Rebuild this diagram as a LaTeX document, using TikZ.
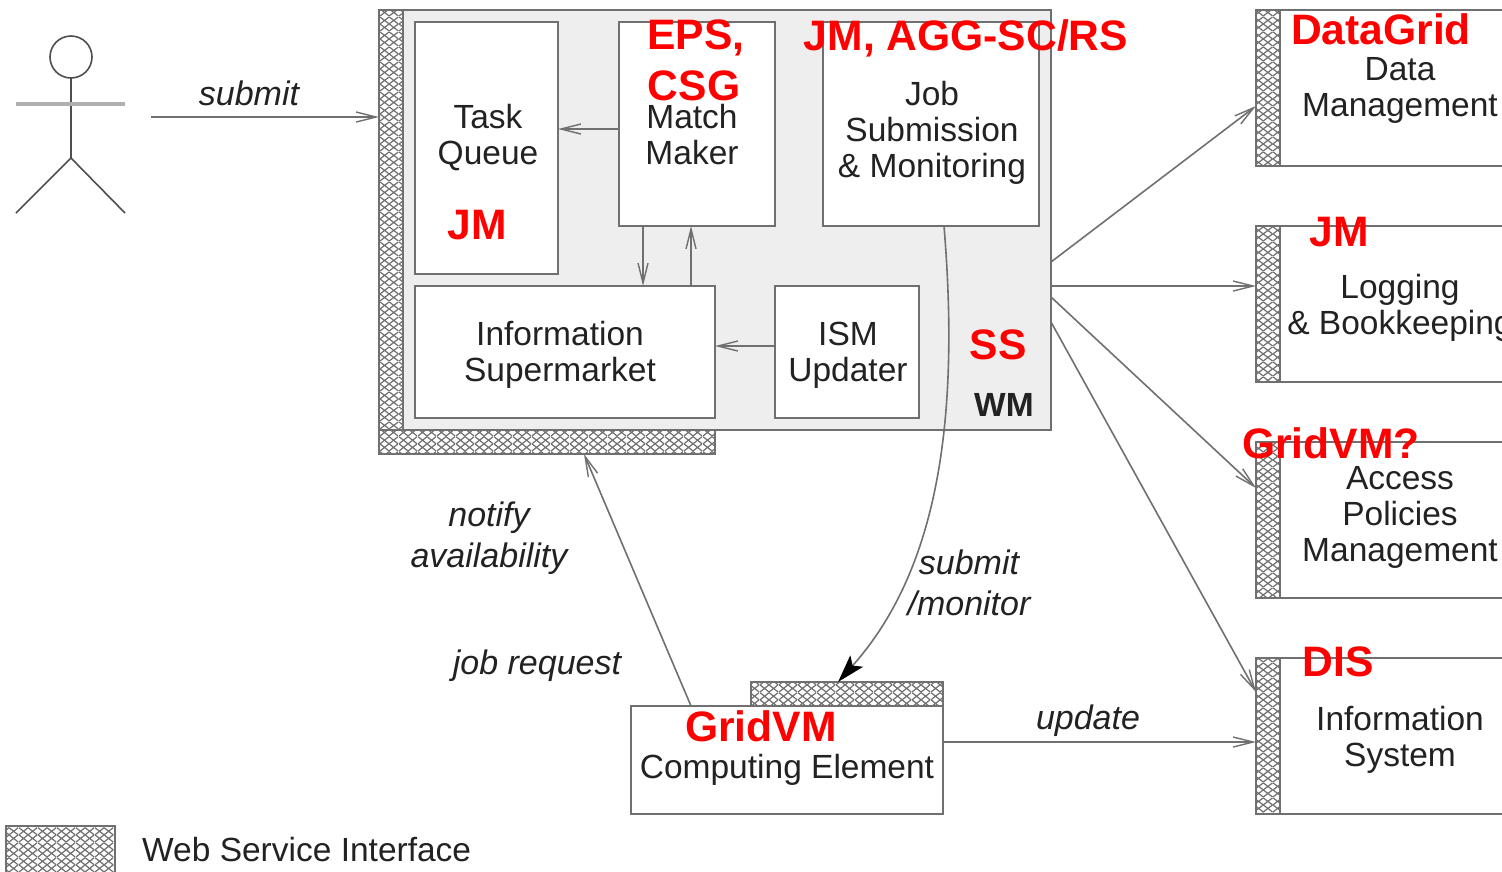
\documentclass[tikz,border=0pt]{standalone}
\usepackage{fontspec}
\setmainfont{Liberation Sans}
\usetikzlibrary{arrows.meta,patterns}
\pgfdeclarepatternformonly{wsface}{\pgfqpoint{0pt}{0pt}}{\pgfqpoint{19pt}{15pt}}{\pgfqpoint{19pt}{15pt}}{
  \pgfsetlinewidth{1.25pt}
  \pgfpathmoveto{\pgfqpoint{0pt}{0pt}}\pgfpathlineto{\pgfqpoint{19pt}{15pt}}
  \pgfpathmoveto{\pgfqpoint{0pt}{15pt}}\pgfpathlineto{\pgfqpoint{19pt}{0pt}}
  \pgfpathmoveto{\pgfqpoint{0pt}{7.5pt}}\pgfpathlineto{\pgfqpoint{9.5pt}{15pt}}
  \pgfpathmoveto{\pgfqpoint{9.5pt}{0pt}}\pgfpathlineto{\pgfqpoint{19pt}{7.5pt}}
  \pgfpathmoveto{\pgfqpoint{0pt}{7.5pt}}\pgfpathlineto{\pgfqpoint{9.5pt}{0pt}}
  \pgfpathmoveto{\pgfqpoint{9.5pt}{15pt}}\pgfpathlineto{\pgfqpoint{19pt}{7.5pt}}
  \pgfusepath{stroke}}
\definecolor{lin}{HTML}{707070}
\definecolor{txt}{HTML}{222222}
\definecolor{panel}{HTML}{EEEEEE}
\tikzset{
  panelbox/.style={draw=lin,line width=1.6pt,fill=panel,inner sep=0pt,outer sep=0pt,anchor=north west},
  wbox/.style={draw=lin,line width=1.6pt,fill=white,inner sep=0pt,outer sep=0pt,anchor=north west},
  ws/.style={draw=lin,line width=1.6pt,fill=white,postaction={pattern=wsface,pattern color=lin},inner sep=0pt,outer sep=0pt,anchor=north west},
  lab/.style={text=txt,font=\fontsize{33.5}{36}\selectfont,align=center,inner sep=0pt},
  ilab/.style={lab,font=\fontsize{34}{40.5}\selectfont\itshape},
  red/.style={text=red,font=\fontsize{42.6}{50}\selectfont\bfseries,inner sep=0pt},
  arr/.style={draw=lin,line width=1.6pt,-{Straight Barb[length=20pt,width=10pt,line width=1.4pt]}},
  arrf/.style={draw=lin,line width=1.6pt,-{Stealth[length=28pt,width=17pt,inset=6pt,black]}},
  actor/.style={draw=lin!70!black,line width=1.6pt,outer sep=0pt}
}
\begin{document}
\begin{tikzpicture}[x=1pt,y=-1pt]
\useasboundingbox (0,0) rectangle (1502,871);
\fill[white] (0,0) rectangle (1502,871);
\clip (0,0) rectangle (1502,871);
% WM panel
\node[panelbox,minimum width=648pt,minimum height=420pt] (wm) at (403,10) {};
\node[ws,minimum width=24pt,minimum height=444pt] (wmws) at (379,10) {};
\node[ws,minimum width=336pt,minimum height=24pt] (wmwsb) at (379,430) {};
\node[wbox,minimum width=143pt,minimum height=252pt] (tq) at (415,22) {};
\node[wbox,minimum width=156pt,minimum height=204pt] (mm) at (619,22) {};
\node[wbox,minimum width=216pt,minimum height=204pt] (js) at (823,22) {};
\node[wbox,minimum width=300pt,minimum height=132pt] (is) at (415,286) {};
\node[wbox,minimum width=144pt,minimum height=132pt] (ism) at (775,286) {};
% right services
\node[wbox,minimum width=260pt,minimum height=156pt] (dm) at (1256,10) {};
\node[ws,minimum width=24pt,minimum height=156pt] (dmws) at (1256,10) {};
\node[wbox,minimum width=260pt,minimum height=156pt] (lb) at (1256,226) {};
\node[ws,minimum width=24pt,minimum height=156pt] (lbws) at (1256,226) {};
\node[wbox,minimum width=260pt,minimum height=156pt] (ap) at (1256,442) {};
\node[ws,minimum width=24pt,minimum height=156pt] (apws) at (1256,442) {};
\node[wbox,minimum width=260pt,minimum height=156pt] (si) at (1256,658) {};
\node[ws,minimum width=24pt,minimum height=156pt] (siws) at (1256,658) {};
% computing element
\node[wbox,minimum width=312pt,minimum height=108pt] (ce) at (631,706) {};
\node[ws,minimum width=192pt,minimum height=24pt] (cews) at (751,682) {};
% legend
\node[ws,minimum width=109pt,minimum height=60pt] (leg) at (6,826) {};
% actor
\node[circle,actor,minimum size=42pt,inner sep=0pt] (head) at (71,57) {};
\coordinate (hip) at (71,158);
\coordinate (armL) at (16,104);
\coordinate (armR) at (125,104);
\coordinate (legL) at (16,213);
\coordinate (legR) at (125,213);
\coordinate (subm) at (151,117);
\draw[actor] (head.south) -- (hip);
\draw[draw=lin!55,line width=3.2pt] (armL) -- (armR);
\draw[actor] (legL) -- (hip) -- (legR);
% connectors
\draw[arr] (subm) -- (subm -| wmws.west);
\draw[arr] ([yshift=-5pt]mm.west) -- ([yshift=-5pt]mm.west -| tq.east);
\draw[arr] ([xshift=-54pt]mm.south) -- ([xshift=-54pt]mm.south |- is.north);
\draw[arr] ([xshift=-6pt]mm.south |- is.north) -- ([xshift=-6pt]mm.south);
\draw[arr] ([yshift=6pt]ism.west) -- ([yshift=6pt]ism.west -| is.east);
\draw[arr] ([yshift=-42pt]wm.east) -- ([yshift=-18pt]dmws.west);
\draw[arr] ([yshift=-66pt]wm.east) -- ([yshift=18pt]lbws.west);
\draw[arr] ([yshift=-77pt]wm.east) -- ([yshift=32pt]apws.west);
\draw[arr] ([yshift=-102pt]wm.east) -- ([yshift=44pt]siws.west);
\draw[arr] ([xshift=60pt]ce.north west) -- ([xshift=205pt]wmwsb.south west);
\draw[arr] ([yshift=18pt]ce.east) -- ([yshift=-6pt]siws.west);
\draw[arrf] ([xshift=13pt]js.south) .. controls (960,420) and (938,570) .. ([xshift=-9pt]cews.north);
% box texts
\node[lab] (ttq) at (488,138) {Task\\Queue};
\node[lab] (tmm) at (692,135) {Match\\Maker};
\node[lab] (tjs) at (932,133) {Job\\Submission\\\& Monitoring};
\node[lab] (tis) at (560,355) {Information\\Supermarket};
\node[lab] (tism) at (848,355) {ISM\\Updater};
\node[lab,font=\fontsize{33.5}{36}\selectfont\bfseries] (twm) at (1004,405) {WM};
\node[lab] (tdm) at (1400,90) {Data\\Management};
\node[lab] (tlb) at (1400,308) {Logging\\\& Bookkeeping};
\node[lab] (tap) at (1400,517) {Access\\Policies\\Management};
\node[lab] (tsi) at (1400,740) {Information\\System};
\node[lab] (tce) at (787,770) {Computing Element};
\node[lab,anchor=west] (tleg) at (142,850) {Web Service Interface};
% connector labels
\node[ilab] (lsub) at (249,93) {submit};
\node[ilab] (lnot) at (489,538) {notify\\availability};
\node[ilab] (ljob) at (537,666) {job request};
\node[ilab] (lsm) at (969,583) {submit\\/monitor};
\node[ilab] (lupd) at (1088,721) {update};
% red labels
\node[red] (r1) at (696,38) {EPS,};
\node[red] (r2) at (694,86) {CSG};
\node[red] (r3) at (966,38) {JM, AGG-SC/RS};
\node[red] (r4) at (477,225) {JM};
\node[red] (r5) at (1381,29) {DataGrid};
\node[red] (r6) at (1339,232) {JM};
\node[red] (r7) at (998,345) {SS};
\node[red] (r8) at (1331,443) {GridVM?};
\node[red] (r9) at (1338,662) {DIS};
\node[red] (r10) at (761,726) {GridVM};
\end{tikzpicture}
\end{document}
